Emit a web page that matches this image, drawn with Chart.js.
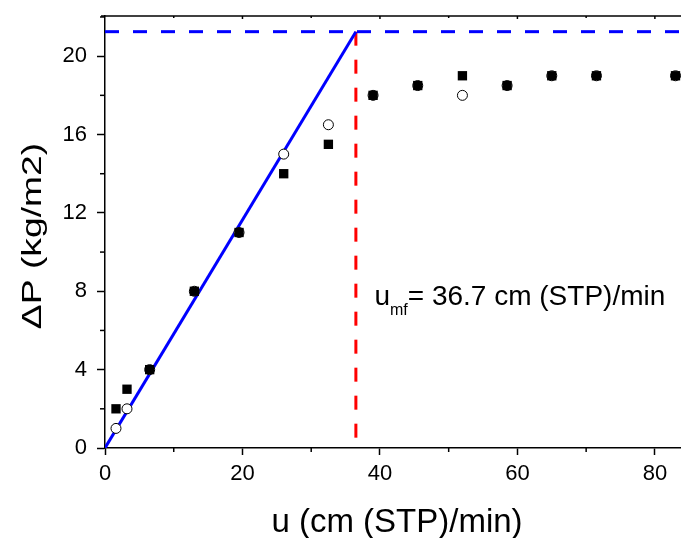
<!DOCTYPE html>
<html>
<head>
<meta charset="utf-8">
<script src="https://cdn.jsdelivr.net/npm/chart.js@4"></script>
<style>
  html, body { margin: 0; padding: 0; background: #fff; }
  canvas { display: block; }
</style>
</head>
<body>
<canvas id="c" width="681" height="538"></canvas>
<script>
// ---- data ----
const uValues      = [1.6, 3.2, 6.5, 13, 19.5, 26, 32.5, 39, 45.5, 52, 58.5, 65, 71.5, 83];
const dpIncreasing = [2, 3, 4, 8, 11, 14, 15.5, 18, 18.5, 19, 18.5, 19, 19, 19];   // filled squares
const dpDecreasing = [1, 2, 4, 8, 11, 15, 16.5, 18, 18.5, 18, 18.5, 19, 19, 19];   // open circles
const fitU  = [0, 36.5];
const fitDP = [0, 21.25];
const umfValue = 36.5;
const dpPlateau = 21.25;
const xRange = [0, 83.8];
const yRange = [0, 22.05];
const xLabelTicks = [0, 20, 40, 60, 80];
const yLabelTicks = [0, 4, 8, 12, 16, 20];
const xTitle = 'u (cm (STP)/min)';
const yTitle = 'ΔP (kg/m2)';
const annotationText = { main: 'u', sub: 'mf', rest: '= 36.7 cm (STP)/min', u: 39.2, dp: 7.3 };

const pts = (xs, ys) => xs.map((x, i) => ({ x: x, y: ys[i] }));

const FONT = "'Liberation Sans', Arial, sans-serif";

const extras = {
  id: 'extras',
  afterDraw(chart) {
    const ctx = chart.ctx;
    const xs = chart.scales.x, ys = chart.scales.y;
    const a = chart.chartArea;
    ctx.save();
    // top frame line
    ctx.strokeStyle = '#000';
    ctx.lineWidth = 1.5;
    ctx.beginPath();
    ctx.moveTo(a.left - 4, a.top);
    ctx.lineTo(chart.width, a.top);
    ctx.stroke();
    // minor ticks
    for (let v = 10; v < xRange[1]; v += 20) {
      const px = xs.getPixelForValue(v);
      ctx.beginPath(); ctx.moveTo(px, a.bottom); ctx.lineTo(px, a.bottom + 4); ctx.stroke();
      ctx.beginPath(); ctx.moveTo(px, a.top); ctx.lineTo(px, a.top + 2); ctx.stroke();
    }
    for (let v = 20; v < xRange[1]; v += 20) {
      const px = xs.getPixelForValue(v);
      ctx.beginPath(); ctx.moveTo(px, a.top); ctx.lineTo(px, a.top + 3); ctx.stroke();
    }
    for (let v = 2; v < yRange[1]; v += 4) {
      const py = ys.getPixelForValue(v);
      ctx.beginPath(); ctx.moveTo(a.left, py); ctx.lineTo(a.left - 5, py); ctx.stroke();
    }
    ctx.fillStyle = '#000';
    // axis titles
    ctx.font = '33px ' + FONT;
    ctx.textAlign = 'center';
    ctx.textBaseline = 'alphabetic';
    ctx.fillText(xTitle, 397, 532);
    ctx.save();
    ctx.translate(41, 236);
    ctx.rotate(-Math.PI / 2);
    ctx.scale(1.38, 1);
    ctx.font = '27px ' + FONT;
    ctx.fillText(yTitle, 0, 0);
    ctx.restore();
    // annotation
    const ax = xs.getPixelForValue(annotationText.u);
    const ay = ys.getPixelForValue(annotationText.dp);
    ctx.textAlign = 'left';
    ctx.font = '28px ' + FONT;
    ctx.fillText(annotationText.main, ax, ay);
    let w = ctx.measureText(annotationText.main).width;
    ctx.font = '16px ' + FONT;
    ctx.fillText(annotationText.sub, ax + w, ay + 10);
    w += ctx.measureText(annotationText.sub).width;
    ctx.font = '28px ' + FONT;
    ctx.fillText(annotationText.rest, ax + w, ay);
    ctx.restore();
  }
};

new Chart(document.getElementById('c'), {
  type: 'scatter',
  data: {
    datasets: [
      {
        label: 'increasing',
        data: pts(uValues, dpIncreasing),
        pointStyle: 'rect',
        pointRadius: 6.6,
        backgroundColor: '#000',
        borderColor: '#000',
        borderWidth: 0,
        order: 0,
        clip: false
      },
      {
        label: 'decreasing',
        data: pts(uValues, dpDecreasing),
        pointStyle: 'circle',
        pointRadius: 5,
        backgroundColor: '#fff',
        borderColor: '#000',
        borderWidth: 1,
        order: 1,
        clip: false
      },
      {
        label: 'fit',
        data: pts(fitU, fitDP),
        showLine: true,
        pointRadius: 0,
        borderColor: '#0000ff',
        borderWidth: 3,
        order: 2
      },
      {
        label: 'plateau',
        data: [{ x: xRange[0], y: dpPlateau }, { x: xRange[1], y: dpPlateau }],
        showLine: true,
        pointRadius: 0,
        borderColor: '#0000ff',
        borderWidth: 3,
        borderDash: [14, 14],
        order: 3
      },
      {
        label: 'umf',
        data: [{ x: umfValue, y: dpPlateau }, { x: umfValue, y: 0 }],
        showLine: true,
        pointRadius: 0,
        borderColor: '#ff0000',
        borderWidth: 3,
        borderDash: [14, 14],
        order: 4
      }
    ]
  },
  options: {
    responsive: false,
    animation: false,
    devicePixelRatio: 1,
    layout: { autoPadding: false, padding: { top: 16, left: 0, right: 0, bottom: 0 } },
    plugins: { legend: { display: false }, tooltip: { enabled: false } },
    scales: {
      x: {
        type: 'linear',
        min: xRange[0], max: xRange[1],
        afterFit(s) { s.height = 90; s.paddingLeft = 0; s.paddingRight = 0; },
        afterBuildTicks(s) { s.ticks = xLabelTicks.map(v => ({ value: v })); },
        ticks: {
          color: '#000',
          font: { family: FONT, size: 22 },
          padding: 6,
          maxRotation: 0,
          autoSkip: false,
          callback: v => String(v)
        },
        grid: { drawOnChartArea: false, drawTicks: true, tickLength: 7, tickColor: '#000', tickWidth: 1.5 },
        border: { display: true, color: '#000', width: 1.5 },
        title: { display: false }
      },
      y: {
        type: 'linear',
        min: yRange[0], max: yRange[1],
        afterFit(s) { s.width = 105; s.paddingTop = 0; s.paddingBottom = 0; },
        afterBuildTicks(s) { s.ticks = yLabelTicks.map(v => ({ value: v })); },
        ticks: {
          color: '#000',
          font: { family: FONT, size: 22 },
          padding: 10,
          autoSkip: false,
          callback: v => String(v)
        },
        grid: { drawOnChartArea: false, drawTicks: true, tickLength: 8, tickColor: '#000', tickWidth: 1.5 },
        border: { display: true, color: '#000', width: 1.5 },
        title: { display: false }
      }
    }
  },
  plugins: [extras]
});
</script>
</body>
</html>
